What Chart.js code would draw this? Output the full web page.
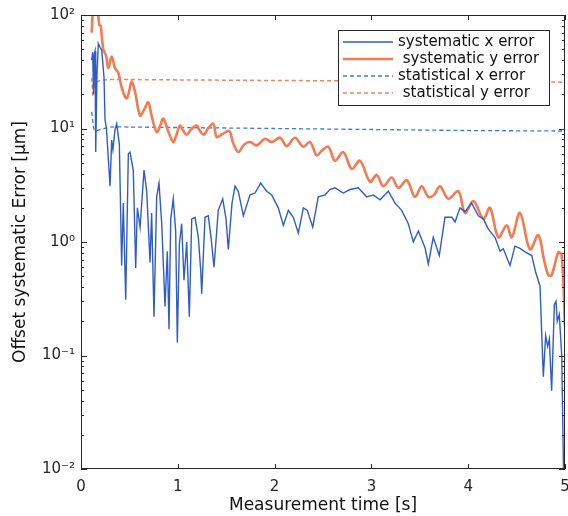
<!DOCTYPE html>
<html>
<head>
<meta charset="utf-8">
<script src="https://cdn.jsdelivr.net/npm/chart.js@4"></script>
<style>
  html, body { margin: 0; padding: 0; background: #fff; }
  #wrap { width: 568px; height: 516px; }
</style>
</head>
<body>
<div id="wrap"><canvas id="errChart"></canvas></div>
<script>
// time stamps [s] and values [um]
const tSysX = [
  0.11,0.121,0.129,0.137,0.145,0.152,0.165,0.179,0.196,0.214,
  0.238,0.248,0.263,0.279,0.3,0.317,0.33,0.351,0.369,0.396,
  0.42,0.437,0.462,0.489,0.506,0.54,0.565,0.582,0.61,0.651,
  0.679,0.713,0.73,0.754,0.782,0.806,0.834,0.868,0.892,0.909,
  0.927,0.953,0.978,0.995,1.016,1.04,1.064,1.092,1.119,1.144,
  1.178,1.212,1.237,1.247,1.281,1.315,1.343,1.374,1.418,1.464,
  1.498,1.522,1.56,1.591,1.625,1.677,1.746,1.798,1.856,1.918,
  1.97,2.038,2.09,2.142,2.193,2.245,2.297,2.338,2.394,2.451,
  2.521,2.572,2.624,2.71,2.779,2.865,2.951,3.02,3.089,3.175,
  3.244,3.313,3.381,3.433,3.485,3.554,3.588,3.639,3.701,3.76,
  3.83,3.864,3.915,3.967,4.036,4.104,4.156,4.208,4.277,4.329,
  4.363,4.432,4.483,4.535,4.587,4.656,4.7,4.742,4.759,4.776,
  4.8,4.821,4.838,4.862,4.89,4.907,4.92,4.941,4.966,4.99
];
const sysX = [
  40,47,20,45,48,6.2,30,56,52,49,
  28,12,10,6,3.1,7.9,6.5,9.7,11,7.3,
  0.62,2.2,0.31,6.0,6.2,4.3,0.59,2.0,1.35,4.3,
  2.8,0.66,1.8,0.22,2.5,3.3,1.45,0.27,0.83,0.17,
  1.6,2.4,1.25,0.13,0.95,1.45,0.46,1.0,0.22,1.6,
  1.65,1.1,0.56,0.35,1.65,1.7,1.1,0.6,1.9,2.4,
  1.6,0.86,2.2,3.1,2.8,1.7,2.6,2.7,3.3,2.8,
  2.6,2.0,1.4,1.9,1.65,1.2,2.0,1.9,1.35,2.5,
  2.6,2.9,3.0,2.7,2.9,3.0,2.5,2.6,2.35,2.8,
  2.2,1.9,1.45,1.0,1.25,0.89,0.64,1.1,0.76,1.65,
  1.65,1.5,2.0,1.85,2.2,1.7,1.6,1.3,1.1,0.83,
  0.87,0.62,0.92,0.88,0.82,0.76,0.53,0.41,0.16,0.065,
  0.15,0.12,0.14,0.049,0.28,0.3,0.2,0.23,0.1,0.005
];

const tSysY = [
  0.11,0.127,0.162,0.189,0.204,0.23,0.258,0.282,0.317,0.351,
  0.385,0.42,0.455,0.475,0.496,0.524,0.558,0.61,0.65,0.695,
  0.733,0.782,0.816,0.85,0.9,0.953,0.98,1.023,1.054,1.092,
  1.136,1.195,1.229,1.27,1.312,1.367,1.402,1.457,1.532,1.57,
  1.625,1.684,1.746,1.815,1.9,1.97,2.056,2.125,2.21,2.297,
  2.366,2.435,2.49,2.555,2.624,2.71,2.797,2.882,2.986,3.055,
  3.123,3.21,3.278,3.365,3.45,3.52,3.588,3.647,3.709,3.794,
  3.898,3.967,4.053,4.156,4.225,4.311,4.398,4.45,4.535,4.638,
  4.724,4.783,4.828,4.862,4.931,4.966,5.0
];
const sysY = [
  70,110,120,82,80,50,44,34,43,34,
  31,23,19,18.5,21,26,21,13,14.5,17,
  12.5,9.3,10.5,12.2,9.5,7.6,8.5,10.6,9.6,8.8,
  9.8,10.6,9.5,8.8,10,11,8.4,8.9,9.5,7.5,
  6.2,7.2,7.6,7.1,8.1,7.6,8.3,7.0,8.3,6.9,
  7.6,5.8,6.4,6.9,5.2,6.2,4.4,5.2,3.4,3.9,
  3.1,3.7,3.0,3.5,2.5,3.1,2.5,2.6,3.1,2.4,
  2.8,1.8,2.3,1.6,2.0,1.1,1.4,1.1,1.8,0.86,
  1.15,0.7,0.51,0.51,0.81,0.76,0.18
];

const tStat = [0.11,0.125,0.14,0.2,0.3,0.5,1,2,3,4,5];
const statX = [14,11,9.6,9.8,10.3,10.3,10.2,10.0,9.8,9.6,9.5];
const statY = [28,19,25,26.5,27,27,26.8,26.5,26.2,25.9,25.6];

const seriesNames = ['systematic x error', ' systematic y error', 'statistical x error', ' statistical y error'];
const xTicks = [0, 1, 2, 3, 4, 5];
const yTickValues = [0.01, 0.1, 1, 10, 100];
const yTickLabels = ['10\u207B\u00B2', '10\u207B\u00B9', '10\u2070', '10\u00B9', '10\u00B2'];

const pts = (ts, vs) => ts.map((t, i) => ({ x: t, y: vs[i] }));

const FONT = 'DejaVu Sans';
const AXIS_COLOR = '#262626';

// box, inside ticks and legend (MATLAB style)
const framePlugin = {
    id: 'frame',
    afterDraw(chart) {
        const ctx = chart.ctx;
        const a = chart.chartArea;
        const xs = chart.scales.x;
        const ys = chart.scales.y;
        ctx.save();
        ctx.strokeStyle = AXIS_COLOR;
        ctx.lineWidth = 1;
        ctx.strokeRect(a.left + 0.5, a.top + 0.5, a.right - a.left - 1, a.bottom - a.top - 1);

        ctx.beginPath();
        xTicks.forEach(v => {
            const px = Math.round(xs.getPixelForValue(v)) + 0.5;
            ctx.moveTo(px, a.bottom); ctx.lineTo(px, a.bottom - 5);
            ctx.moveTo(px, a.top); ctx.lineTo(px, a.top + 5);
        });
        for (let n = -2; n <= 2; n++) {
            for (let k = 1; k <= 9; k++) {
                const v = k * Math.pow(10, n);
                if (v > 100) break;
                const py = Math.round(ys.getPixelForValue(v)) + 0.5;
                const len = k === 1 ? 6 : 3;
                ctx.moveTo(a.left, py); ctx.lineTo(a.left + len, py);
                ctx.moveTo(a.right, py); ctx.lineTo(a.right - len, py);
            }
        }
        ctx.stroke();

        // legend
        const bx = 338, by = 30, bw = 211, bh = 75;
        ctx.fillStyle = '#fff';
        ctx.fillRect(bx, by, bw, bh);
        ctx.strokeStyle = AXIS_COLOR;
        ctx.strokeRect(bx + 0.5, by + 0.5, bw, bh);
        ctx.font = '15px "' + FONT + '"';
        ctx.textBaseline = 'middle';
        ctx.fillStyle = '#111';
        chart.data.datasets.forEach((ds, i) => {
            const cy = by + 12 + i * 17;
            ctx.beginPath();
            ctx.strokeStyle = ds.borderColor;
            ctx.lineWidth = ds.borderWidth;
            ctx.setLineDash(ds.borderDash || []);
            ctx.moveTo(bx + 5, cy); ctx.lineTo(bx + 55, cy);
            ctx.stroke();
            ctx.setLineDash([]);
            ctx.fillText(ds.label, bx + 60, cy);
        });
        ctx.restore();
    }
};

new Chart(document.getElementById('errChart'), {
    type: 'line',
    data: {
        datasets: [{
            label: seriesNames[0],
            data: pts(tSysX, sysX),
            borderColor: '#2f5cc9',
            borderWidth: 1.4,
            tension: 0
        }, {
            label: seriesNames[1],
            data: pts(tSysY, sysY),
            borderColor: '#f57a52',
            borderWidth: 2.6,
            tension: 0.35
        }, {
            label: seriesNames[2],
            data: pts(tStat, statX),
            borderColor: '#3b78dc',
            borderWidth: 1.3,
            borderDash: [4, 3],
            tension: 0.2
        }, {
            label: seriesNames[3],
            data: pts(tStat, statY),
            borderColor: '#f5845c',
            borderWidth: 1.5,
            borderDash: [4, 3],
            tension: 0.2
        }]
    },
    options: {
        responsive: true,
        maintainAspectRatio: false,
        animation: false,
        layout: { padding: { top: 15, right: 3, left: 0, bottom: 0 } },
        elements: { point: { radius: 0 } },
        scales: {
            x: {
                type: 'linear',
                min: 0,
                max: 5,
                afterBuildTicks: (scale) => { scale.ticks = xTicks.map(v => ({ value: v })); },
                afterFit: (scale) => {
                    scale.height = 47;
                    scale.paddingRight = 0;
                    scale.paddingLeft = 0;
                },
                grid: { display: false, drawTicks: false },
                border: { display: false },
                ticks: {
                    color: AXIS_COLOR,
                    padding: 9,
                    maxRotation: 0,
                    font: { family: FONT, size: 15 }
                },
                title: {
                    display: true,
                    text: 'Measurement time [s]',
                    color: '#111',
                    font: { family: FONT, size: 17 },
                    padding: { top: 0, bottom: 0 }
                }
            },
            y: {
                type: 'logarithmic',
                min: 0.01,
                max: 100,
                afterBuildTicks: (scale) => { scale.ticks = yTickValues.map(v => ({ value: v })); },
                afterFit: (scale) => { scale.width = 81; },
                grid: { display: false, drawTicks: false },
                border: { display: false },
                ticks: {
                    color: AXIS_COLOR,
                    padding: 6,
                    font: { family: FONT, size: 15 },
                    callback: (value) => {
                        const i = yTickValues.findIndex(v => Math.abs(v - value) < v * 1e-6);
                        return i >= 0 ? yTickLabels[i] : '';
                    }
                },
                title: {
                    display: true,
                    text: 'Offset systematic Error [\u03BCm]',
                    color: '#111',
                    font: { family: FONT, size: 17 },
                    padding: { top: 10, bottom: 0 }
                }
            }
        },
        plugins: {
            legend: { display: false },
            tooltip: { enabled: false }
        }
    },
    plugins: [framePlugin]
});
</script>
</body>
</html>
